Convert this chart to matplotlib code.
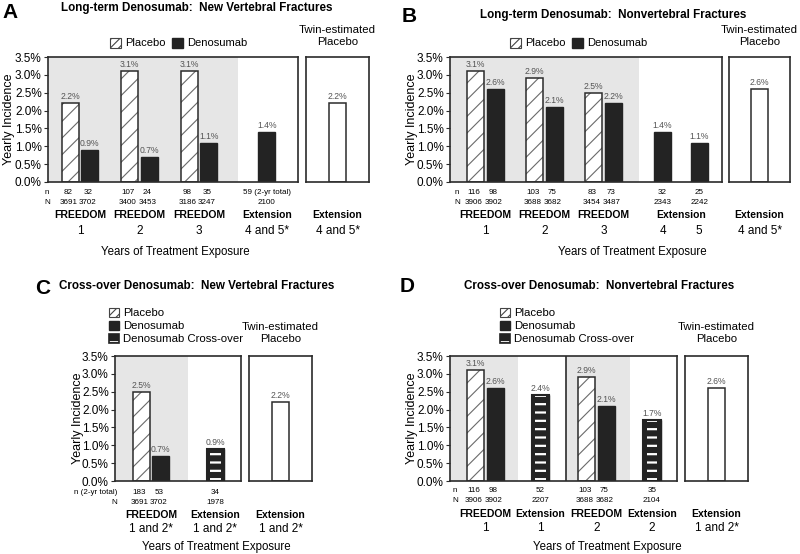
import matplotlib
matplotlib.use("Agg")
import matplotlib.pyplot as plt
from matplotlib.patches import Patch

plt.rcParams["font.family"] = ["Liberation Sans", "DejaVu Sans"]
plt.rcParams["hatch.linewidth"] = 0.8

# ---------------- Data ----------------
# Panel A: Long-term denosumab, new vertebral fractures
a_placebo = [2.2, 3.1, 3.1]
a_denos = [0.9, 0.7, 1.1, 1.4]
a_twin = 2.2
a_n_placebo = ["82", "107", "98"]
a_n_denos = ["32", "24", "35", "59 (2-yr total)"]
a_N_placebo = ["3691", "3400", "3186"]
a_N_denos = ["3702", "3453", "3247", "2100"]
a_study = ["FREEDOM", "FREEDOM", "FREEDOM", "Extension"]
a_years = ["1", "2", "3", "4 and 5*"]

# Panel B: Long-term denosumab, nonvertebral fractures
b_placebo = [3.1, 2.9, 2.5]
b_denos = [2.6, 2.1, 2.2, 1.4, 1.1]
b_twin = 2.6
b_n_placebo = ["116", "103", "83"]
b_n_denos = ["98", "75", "73", "32", "25"]
b_N_placebo = ["3906", "3688", "3454"]
b_N_denos = ["3902", "3682", "3487", "2343", "2242"]
b_study = ["FREEDOM", "FREEDOM", "FREEDOM", "Extension"]
b_years = ["1", "2", "3", "4", "5"]

# Panel C: Cross-over denosumab, new vertebral fractures
c_placebo = [2.5]
c_denos = [0.7]
c_cross = [0.9]
c_twin = 2.2
c_n = ["183", "53", "34"]
c_N = ["3691", "3702", "1978"]
c_study = ["FREEDOM", "Extension"]
c_years = ["1 and 2*", "1 and 2*"]

# Panel D: Cross-over denosumab, nonvertebral fractures
d_placebo = [3.1, 2.9]
d_denos = [2.6, 2.1]
d_cross = [2.4, 1.7]
d_twin = 2.6
d_n_placebo = ["116", "103"]
d_n_denos = ["98", "75"]
d_n_cross = ["52", "35"]
d_N_placebo = ["3906", "3688"]
d_N_denos = ["3902", "3682"]
d_N_cross = ["2207", "2104"]
d_study = ["FREEDOM", "Extension", "FREEDOM", "Extension"]
d_years = ["1", "1", "2", "2"]

twin_study = "Extension"
twin_years_ab = "4 and 5*"
twin_years_cd = "1 and 2*"

# ---------------- Style ----------------
EDGE = "#2b2b2b"
DARK = "#232323"
SHADE = "#e6e6e6"
HATCH_GRAY = "#6a6a6a"
LABEL_GRAY = "#555555"
W = 0.29
OFF = 0.165
LOFF = 0.03          # n/N labels sit slightly left of the bar centres
TICKS = [0, 0.5, 1.0, 1.5, 2.0, 2.5, 3.0, 3.5]
SMALL = 5.8
VAL = 6.2
CAT = 7.5
YEAR = 8.5
TITLE = 8.4


def placebo_bars(ax, x, h):
    ax.bar(x, h, W, color="white", edgecolor=HATCH_GRAY, hatch="//", linewidth=0, zorder=2)
    ax.bar(x, h, W, fill=False, edgecolor=EDGE, linewidth=1.1, zorder=3)


def denos_bars(ax, x, h):
    ax.bar(x, h, W, color=DARK, edgecolor=DARK, linewidth=1, zorder=2)


def cross_bars(ax, x, h):
    ax.bar(x, h, W, color=DARK, edgecolor=DARK, linewidth=1, zorder=2)
    # white stripes, narrower than the bar so they stop short of the edges
    try:
        ax.bar(x, h, W * 0.62, fill=False, edgecolor="white", hatch="--", linewidth=0,
               zorder=3, hatch_linewidth=1.6)
    except (AttributeError, TypeError):
        ax.bar(x, h, W * 0.62, fill=False, edgecolor="white", hatch="--", linewidth=0, zorder=3)
    ax.bar(x, h, W, fill=False, edgecolor=DARK, linewidth=1.5, zorder=4)


def value_labels(ax, x, h):
    for xi, hi in zip(x, h):
        ax.annotate(f"{hi:.1f}%", (xi, hi), xytext=(0, 1.5), textcoords="offset points",
                    ha="center", va="bottom", fontsize=VAL, color=LABEL_GRAY)


def row(ax, xs, labels, y, **kw):
    tr = ax.get_xaxis_transform()
    ha = kw.pop("ha", "center")
    for xi, s in zip(xs, labels):
        ax.text(xi, y, s, transform=tr, ha=ha, va="center", **kw)


def shift(xs):
    return [x - LOFF for x in xs]


def style_main(ax, xlim):
    ax.set_xlim(*xlim)
    ax.set_ylim(0, 3.5)
    ax.set_yticks(TICKS)
    ax.set_yticklabels([f"{t:.1f}%" for t in TICKS])
    ax.tick_params(axis="y", length=3, width=0.8, labelsize=8.5, pad=1.5, color=EDGE)
    ax.set_xticks([])
    for s in ax.spines.values():
        s.set_color(EDGE)
        s.set_linewidth(1.2)


def style_twin(ax, value, header_y):
    ax.set_xlim(-1, 1)
    ax.set_ylim(0, 3.5)
    ax.set_xticks([])
    ax.set_yticks([])
    for s in ax.spines.values():
        s.set_color(EDGE)
        s.set_linewidth(1.2)
    ax.bar([0], [value], 0.54, color="white", edgecolor=EDGE, linewidth=1.1, zorder=2)
    value_labels(ax, [0], [value])
    ax.text(0.5, header_y, "Twin-estimated\nPlacebo", transform=ax.transAxes,
            ha="center", va="center", fontsize=8.2, linespacing=1.3)


placebo_patch = Patch(facecolor="white", edgecolor="#444444", hatch="////", linewidth=0.8)
denos_patch = Patch(facecolor=DARK, edgecolor=DARK)
cross_patch = (Patch(facecolor=DARK, edgecolor="white", hatch="-", linewidth=0),
               Patch(fill=False, edgecolor=DARK, linewidth=1.2))

fig = plt.figure(figsize=(8, 5.54), dpi=100)

# ---------------- Panel A ----------------
ax = fig.add_axes([48 / 800, 1 - 182 / 554, 250 / 800, 125 / 554])
gx = [0, 1, 2]
px = [g - OFF for g in gx]
dx = [g + OFF for g in gx] + [3.14]
style_main(ax, (-0.538, 3.664))
ax.axvspan(-0.538, 2.655, color=SHADE, zorder=0, linewidth=0)
placebo_bars(ax, px, a_placebo)
denos_bars(ax, dx, a_denos)
value_labels(ax, px, a_placebo)
value_labels(ax, dx, a_denos)
row(ax, [-0.555], ["n"], -0.08, fontsize=SMALL)
row(ax, [-0.555], ["N"], -0.16, fontsize=SMALL)
row(ax, shift(px), a_n_placebo, -0.08, fontsize=SMALL)
row(ax, shift(dx[:3]) + [3.14], a_n_denos, -0.08, fontsize=SMALL)
row(ax, shift(px), a_N_placebo, -0.16, fontsize=SMALL)
row(ax, shift(dx[:3]) + [3.14], a_N_denos, -0.16, fontsize=SMALL)
row(ax, gx + [3.14], a_study, -0.264, fontsize=CAT, fontweight="bold")
row(ax, gx + [3.14], a_years, -0.392, fontsize=YEAR)
ax.text(1.6, -0.56, "Years of Treatment Exposure", transform=ax.get_xaxis_transform(),
        ha="center", va="center", fontsize=8.3)
ax.legend([placebo_patch, denos_patch], ["Placebo", "Denosumab"], ncol=2, loc="center",
          bbox_to_anchor=(0.522, 1.112), frameon=False, fontsize=8, handlelength=1.0,
          handleheight=1.0, handletextpad=0.35, columnspacing=0.6, borderpad=0, borderaxespad=0)
tw = fig.add_axes([306 / 800, 1 - 182 / 554, 63 / 800, 125 / 554])
style_twin(tw, a_twin, 1.168)
row(tw, [0], [twin_study], -0.264, fontsize=CAT, fontweight="bold")
row(tw, [0], [twin_years_ab], -0.392, fontsize=YEAR)
fig.text(9 / 800, 1 - 119.5 / 554, "Yearly Incidence", rotation=90, ha="center", va="center", fontsize=9)
fig.text(10 / 800, 1 - 12 / 554, "A", ha="center", va="center", fontsize=15, fontweight="bold")
fig.text(197 / 800, 1 - 7.5 / 554, "Long-term Denosumab:  New Vertebral Fractures",
         ha="center", va="center", fontsize=TITLE, fontweight="bold")

# ---------------- Panel B ----------------
ax = fig.add_axes([450 / 800, 1 - 182 / 554, 272 / 800, 125 / 554])
gx = [0, 1, 2]
px = [g - OFF for g in gx]
dx = [g + OFF for g in gx] + [3.0, 3.62]
style_main(ax, (-0.602, 4.008))
ax.axvspan(-0.602, 2.60, color=SHADE, zorder=0, linewidth=0)
placebo_bars(ax, px, b_placebo)
denos_bars(ax, dx, b_denos)
value_labels(ax, px, b_placebo)
value_labels(ax, dx, b_denos)
row(ax, [-0.483], ["n"], -0.08, fontsize=SMALL)
row(ax, [-0.483], ["N"], -0.16, fontsize=SMALL)
row(ax, shift(px), b_n_placebo, -0.08, fontsize=SMALL)
row(ax, shift(dx[:3]) + dx[3:], b_n_denos, -0.08, fontsize=SMALL)
row(ax, shift(px), b_N_placebo, -0.16, fontsize=SMALL)
row(ax, shift(dx[:3]) + dx[3:], b_N_denos, -0.16, fontsize=SMALL)
row(ax, gx + [3.31], b_study, -0.264, fontsize=CAT, fontweight="bold")
row(ax, gx + [3.0, 3.62], b_years, -0.392, fontsize=YEAR)
ax.text(2.49, -0.56, "Years of Treatment Exposure", transform=ax.get_xaxis_transform(),
        ha="center", va="center", fontsize=8.3)
ax.legend([placebo_patch, denos_patch], ["Placebo", "Denosumab"], ncol=2, loc="center",
          bbox_to_anchor=(0.472, 1.112), frameon=False, fontsize=8, handlelength=1.0,
          handleheight=1.0, handletextpad=0.35, columnspacing=0.6, borderpad=0, borderaxespad=0)
tw = fig.add_axes([729 / 800, 1 - 182 / 554, 61 / 800, 125 / 554])
style_twin(tw, b_twin, 1.168)
row(tw, [0], [twin_study], -0.264, fontsize=CAT, fontweight="bold")
row(tw, [0], [twin_years_ab], -0.392, fontsize=YEAR)
fig.text(412 / 800, 1 - 119.5 / 554, "Yearly Incidence", rotation=90, ha="center", va="center", fontsize=9)
fig.text(409 / 800, 1 - 16 / 554, "B", ha="center", va="center", fontsize=15, fontweight="bold")
fig.text(613 / 800, 1 - 15 / 554, "Long-term Denosumab:  Nonvertebral Fractures",
         ha="center", va="center", fontsize=TITLE, fontweight="bold")

# ---------------- Panel C ----------------
ax = fig.add_axes([115 / 800, 1 - 481 / 554, 126 / 800, 125 / 554])
px = [-OFF]
dx = [OFF]
cx = [1.09]
style_main(ax, (-0.61, 1.525))
ax.axvspan(-0.61, 0.627, color=SHADE, zorder=0, linewidth=0)
placebo_bars(ax, px, c_placebo)
denos_bars(ax, dx, c_denos)
cross_bars(ax, cx, c_cross)
value_labels(ax, px, c_placebo)
value_labels(ax, dx, c_denos)
value_labels(ax, cx, c_cross)
row(ax, [-0.576], ["n (2-yr total)"], -0.088, fontsize=SMALL, ha="right")
row(ax, [-0.576], ["N"], -0.168, fontsize=SMALL, ha="right")
row(ax, shift(px + dx) + cx, c_n, -0.088, fontsize=SMALL)
row(ax, shift(px + dx) + cx, c_N, -0.168, fontsize=SMALL)
row(ax, [0, 1.09], c_study, -0.27, fontsize=CAT, fontweight="bold")
row(ax, [0, 1.09], c_years, -0.38, fontsize=YEAR)
ax.text(1.10, -0.528, "Years of Treatment Exposure", transform=ax.get_xaxis_transform(),
        ha="center", va="center", fontsize=8.3)
ax.legend([placebo_patch, denos_patch, cross_patch], ["Placebo", "Denosumab", "Denosumab Cross-over"],
          loc="center left", bbox_to_anchor=(-0.048, 1.24), frameon=False, fontsize=8.2,
          handlelength=0.9, handleheight=0.9, handletextpad=0.35, labelspacing=0.22,
          borderpad=0, borderaxespad=0)
tw = fig.add_axes([249 / 800, 1 - 481 / 554, 63 / 800, 125 / 554])
style_twin(tw, c_twin, 1.184)
row(tw, [0], [twin_study], -0.27, fontsize=CAT, fontweight="bold")
row(tw, [0], [twin_years_cd], -0.38, fontsize=YEAR)
fig.text(78 / 800, 1 - 418.5 / 554, "Yearly Incidence", rotation=90, ha="center", va="center", fontsize=9)
fig.text(43 / 800, 1 - 288 / 554, "C", ha="center", va="center", fontsize=15, fontweight="bold")
fig.text(197 / 800, 1 - 286 / 554, "Cross-over Denosumab:  New Vertebral Fractures",
         ha="center", va="center", fontsize=TITLE, fontweight="bold")

# ---------------- Panel D ----------------
ax = fig.add_axes([450 / 800, 1 - 481 / 554, 227 / 800, 125 / 554])
gx = [0, 1.881]
px = [g - OFF for g in gx]
dx = [g + OFF for g in gx]
cx = [0.932, 2.822]
style_main(ax, (-0.602, 3.246))
ax.axvspan(-0.602, 0.551, color=SHADE, zorder=0, linewidth=0)
ax.axvspan(1.364, 2.449, color=SHADE, zorder=0, linewidth=0)
ax.axvline(1.364, color=EDGE, linewidth=1.2, zorder=1)
placebo_bars(ax, px, d_placebo)
denos_bars(ax, dx, d_denos)
cross_bars(ax, cx, d_cross)
value_labels(ax, px, d_placebo)
value_labels(ax, dx, d_denos)
value_labels(ax, cx, d_cross)
row(ax, [-0.517], ["n"], -0.072, fontsize=SMALL)
row(ax, [-0.517], ["N"], -0.156, fontsize=SMALL)
row(ax, shift(px), d_n_placebo, -0.072, fontsize=SMALL)
row(ax, shift(dx), d_n_denos, -0.072, fontsize=SMALL)
row(ax, cx, d_n_cross, -0.072, fontsize=SMALL)
row(ax, shift(px), d_N_placebo, -0.156, fontsize=SMALL)
row(ax, shift(dx), d_N_denos, -0.156, fontsize=SMALL)
row(ax, cx, d_N_cross, -0.156, fontsize=SMALL)
study_x = [0, 0.932, 1.881, 2.822]
row(ax, study_x, d_study, -0.264, fontsize=CAT, fontweight="bold")
row(ax, study_x, d_years, -0.376, fontsize=YEAR)
ax.text(2.06, -0.528, "Years of Treatment Exposure", transform=ax.get_xaxis_transform(),
        ha="center", va="center", fontsize=8.3)
ax.legend([placebo_patch, denos_patch, cross_patch], ["Placebo", "Denosumab", "Denosumab Cross-over"],
          loc="center left", bbox_to_anchor=(0.22, 1.24), frameon=False, fontsize=8.2,
          handlelength=0.9, handleheight=0.9, handletextpad=0.35, labelspacing=0.22,
          borderpad=0, borderaxespad=0)
tw = fig.add_axes([685 / 800, 1 - 481 / 554, 63 / 800, 125 / 554])
style_twin(tw, d_twin, 1.184)
row(tw, [0], [twin_study], -0.264, fontsize=CAT, fontweight="bold")
row(tw, [0], [twin_years_cd], -0.376, fontsize=YEAR)
fig.text(412 / 800, 1 - 418.5 / 554, "Yearly Incidence", rotation=90, ha="center", va="center", fontsize=9)
fig.text(407 / 800, 1 - 287 / 554, "D", ha="center", va="center", fontsize=15, fontweight="bold")
fig.text(599 / 800, 1 - 286 / 554, "Cross-over Denosumab:  Nonvertebral Fractures",
         ha="center", va="center", fontsize=TITLE, fontweight="bold")

fig.savefig("out.png", dpi=100)
